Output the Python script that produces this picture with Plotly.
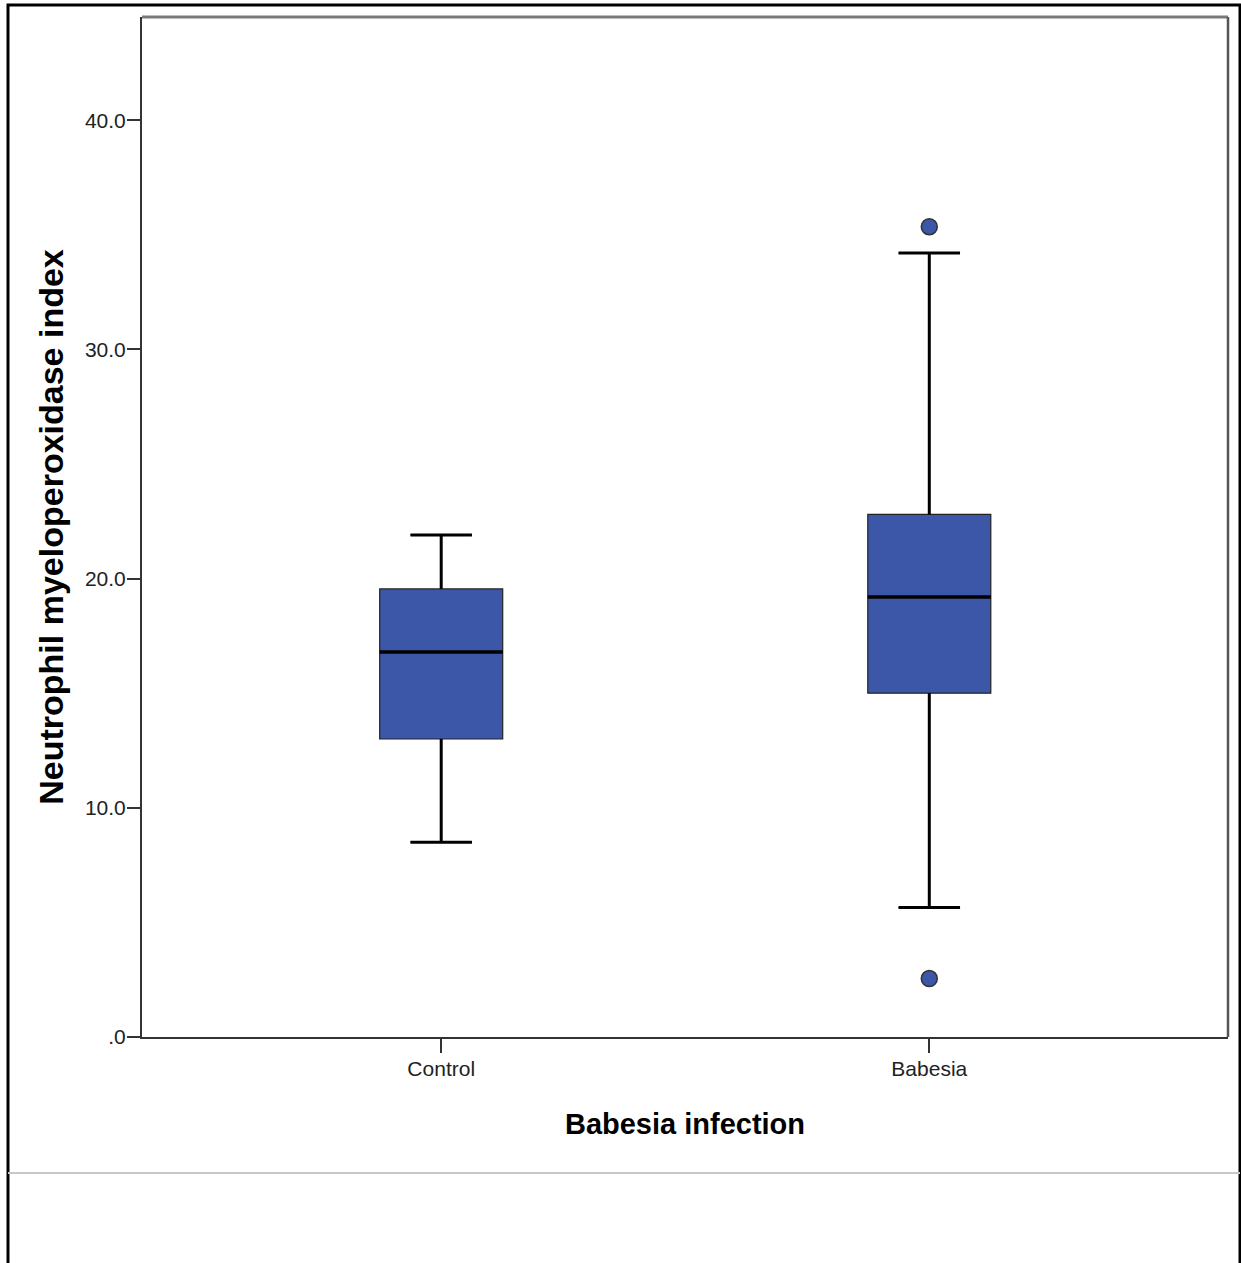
import plotly.graph_objects as go

categories = ["Control", "Babesia"]
q1 = [13.0, 15.0]
median = [16.8, 19.2]
q3 = [19.55, 22.8]
lower_whisker = [8.5, 5.65]
upper_whisker = [21.9, 34.2]
outlier_group = [1, 1]
outlier_values = [35.35, 2.55]

y_tickvals = [0, 10, 20, 30, 40]
y_ticktext = [".0", "10.0", "20.0", "30.0", "40.0"]

BOX_W = 0.252
FILL = "#3C56A8"
W, H = 1241, 1263
L, R, T, B = 142, 13, 17, 226
pw, ph = W - L - R, H - T - B

def px(x):
    return (x - L) / pw

def py(y):
    return (H - B - y) / ph

fig = go.Figure()
positions = list(range(len(categories)))
for i, cat in enumerate(categories):
    fig.add_trace(go.Box(
        x=[positions[i]], q1=[q1[i]], median=[median[i]], q3=[q3[i]],
        lowerfence=[lower_whisker[i]], upperfence=[upper_whisker[i]],
        width=BOX_W, fillcolor=FILL, line=dict(color="#222222", width=1.2),
        whiskerwidth=0.5, boxpoints=False, name=cat, showlegend=False,
        hoverinfo="skip"))
    p = positions[i]
    cap = BOX_W / 4
    half = BOX_W / 2
    fig.add_trace(go.Scatter(
        x=[p, p, None, p, p, None, p - cap, p + cap, None, p - cap, p + cap],
        y=[q3[i], upper_whisker[i], None, q1[i], lower_whisker[i], None,
           upper_whisker[i], upper_whisker[i], None, lower_whisker[i], lower_whisker[i]],
        mode="lines", line=dict(color="black", width=3), showlegend=False,
        hoverinfo="skip"))
    fig.add_trace(go.Scatter(
        x=[p - half, p + half], y=[median[i], median[i]], mode="lines",
        line=dict(color="black", width=3.5), showlegend=False, hoverinfo="skip"))

fig.add_trace(go.Scatter(
    x=[positions[g] for g in outlier_group], y=outlier_values, mode="markers",
    marker=dict(color=FILL, size=16, line=dict(color="#333333", width=1.5)),
    showlegend=False))

shapes = [
    dict(type="line", xref="paper", yref="paper", x0=0, x1=1, y0=1, y1=1,
         line=dict(color="#7a7a7a", width=3)),
    dict(type="line", xref="paper", yref="paper", x0=1, x1=1, y0=0, y1=1,
         line=dict(color="#555555", width=2.5)),
    dict(type="rect", xref="paper", yref="paper", x0=px(8), x1=px(1240), y0=py(1275), y1=py(5),
         line=dict(color="black", width=3), fillcolor="rgba(0,0,0,0)", layer="below"),
    dict(type="line", xref="paper", yref="paper", x0=px(8), x1=px(1240), y0=py(1173), y1=py(1173),
         line=dict(color="#c8c8c8", width=2)),
]

TICKFONT = dict(family="Liberation Sans, Arial, sans-serif", size=21, color="#222222")

fig.update_layout(
    width=W, height=H,
    margin=dict(l=L, r=R, t=T, b=B),
    paper_bgcolor="white", plot_bgcolor="white",
    shapes=shapes,
    xaxis=dict(
        range=[-0.613, 1.612], tickvals=positions, ticktext=categories,
        showgrid=False, zeroline=False, showline=True, linecolor="#333333", linewidth=2,
        ticks="outside", ticklen=14, tickwidth=2, tickcolor="#333333",
        tickfont=TICKFONT, ticklabelstandoff=-2,
        title=dict(text="<b>Babesia infection</b>", standoff=34,
                   font=dict(family="Liberation Sans, Arial, sans-serif", size=29, color="black")),
        fixedrange=True),
    yaxis=dict(
        range=[0, 44.5], tickvals=y_tickvals, ticktext=y_ticktext,
        showgrid=False, zeroline=False, showline=True, linecolor="#333333", linewidth=2,
        ticks="outside", ticklen=13, tickwidth=2, tickcolor="#333333",
        tickfont=TICKFONT, ticklabelstandoff=-3,
        title=dict(text="<b>Neutrophil myeloperoxidase index</b>", standoff=11,
                   font=dict(family="Liberation Sans, Arial, sans-serif", size=34, color="black")),
        fixedrange=True),
)

fig.write_html("out.html", config={"displayModeBar": False},
               post_script="document.body.style.margin='0';document.body.style.overflow='hidden';")
